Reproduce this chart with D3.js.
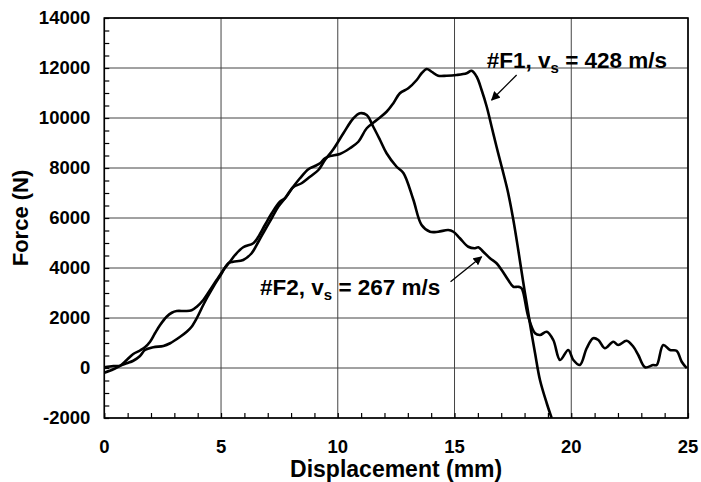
<!DOCTYPE html>
<html>
<head>
<meta charset="utf-8">
<script src="https://cdn.jsdelivr.net/npm/d3@7"></script>
<style>
  body { margin: 0; background: #fff; }
  svg { display: block; }
  text { font-family: "Liberation Sans", Arial, Helvetica, sans-serif; font-weight: bold; fill: #000; }
</style>
</head>
<body>
<svg id="chart" width="701" height="482"></svg>
<script>
// Force-displacement curves (mm, N)
const f1Disp = [0, 0.39, 0.67, 0.96, 1.24, 1.53, 1.74, 1.96, 2.17, 2.39, 2.67, 2.89, 3.1, 3.46, 3.74, 3.96,
  4.24, 4.53, 4.81, 5.1, 5.38, 5.6, 5.95, 6.38, 6.6, 6.88, 7.17, 7.52, 7.74, 8.09, 8.38, 8.74, 9.02, 9.24,
  9.45, 9.67, 10.09, 10.52, 10.88, 11.24, 11.67, 12.09, 12.38, 12.66, 13.02, 13.38, 13.59, 13.81, 14.02,
  14.3, 14.66, 15.09, 15.52, 15.73, 15.95, 16.16, 16.38, 16.59, 16.8, 17.02, 17.2, 17.3, 17.52, 17.73,
  17.94, 18.16, 18.3, 18.45, 18.66, 18.95, 19.16];
const f1Force = [-190, -50, 80, 320, 560, 700, 830, 1050, 1390, 1720, 2050, 2210, 2280, 2280, 2310, 2450,
  2720, 3120, 3520, 3920, 4250, 4520, 4830, 4990, 5250, 5720, 6190, 6650, 6790, 7250, 7590, 7950, 8080, 8190,
  8390, 8480, 8560, 8790, 9050, 9590, 9920, 10250, 10590, 10990, 11190, 11520, 11790, 11960, 11850,
  11690, 11690, 11720, 11790, 11890, 11650, 11120, 10450, 9650, 8850, 8050, 7390, 6990, 5920, 4720,
  3450, 2190, 1390, 590, -480, -1410, -2000];

const f2Disp = [0, 0.39, 0.67, 0.96, 1.24, 1.53, 1.74, 2.1, 2.53, 2.82, 3.25, 3.53, 3.74, 3.96, 4.17, 4.39,
  4.67, 4.96, 5.31, 5.52, 5.95, 6.31, 6.6, 6.88, 7.17, 7.45, 7.74, 8.09, 8.45, 8.81, 9.17, 9.45, 9.81,
  10.24, 10.67, 10.95, 11.24, 11.52, 11.81, 12.09, 12.52, 12.81, 13.23, 13.59, 13.95, 14.3, 14.73, 14.95,
  15.23, 15.59, 15.88, 16.02, 16.23, 16.52, 16.8, 17.02, 17.3, 17.52, 17.73, 17.87, 18.16, 18.45, 18.66,
  18.95, 19.23, 19.52, 19.87, 20.09, 20.37, 20.66, 20.94, 21.16, 21.44, 21.8, 22.01, 22.37, 22.66, 22.87,
  23.16, 23.51, 23.66, 23.94, 24.23, 24.51, 24.73, 24.95];
const f2Force = [30, 80, 90, 190, 290, 480, 720, 830, 880, 990, 1250, 1450, 1650, 1990, 2390, 2790,
  3250, 3680, 4190, 4250, 4320, 4590, 5050, 5520, 5990, 6450, 6790, 7230, 7390, 7650, 7920, 8320, 8750,
  9390, 9990, 10190, 10120, 9650, 9120, 8590, 8050, 7800, 6750, 5720, 5450, 5450, 5520, 5450,
  5190, 4850, 4790, 4830, 4650, 4390, 4190, 3920, 3520, 3250, 3250, 3190, 2050, 1390, 1320,
  1450, 1120, 320, 720, 320, 120, 790, 1190, 1120, 790, 1050, 920, 1090, 850, 520,
  30, 120, 120, 920, 720, 690, 250, -10];

const xTicks = [0, 5, 10, 15, 20, 25];
const yTicks = [-2000, 0, 2000, 4000, 6000, 8000, 10000, 12000, 14000];

// labels: [text, subscript, rest, x (mm), baseline (N)] and arrows [x1, y1, x2, y2]
const labelF1 = ["#F1, v", "s", " = 428 m/s", 16.38, 12000];
const arrowF1 = [17.66, 11720, 16.59, 10720];
const labelF2 = ["#F2, v", "s", " = 267 m/s", 6.67, 2920];
const arrowF2 = [14.83, 3450, 16.16, 4450];

const margin = {left: 104.3, top: 18, right: 13, bottom: 64};
const svg = d3.select('#chart');
const W = 701 - margin.left - margin.right;
const H = 482 - margin.top - margin.bottom;

const x = d3.scaleLinear().domain([0, 25]).range([0, W]);
const y = d3.scaleLinear().domain([-2000, 14000]).range([H, 0]);

const g = svg.append('g').attr('transform', `translate(${margin.left},${margin.top})`);

svg.append('defs').append('clipPath').attr('id', 'plot-clip')
  .append('rect').attr('width', W).attr('height', H);

// grid
g.append('g').selectAll('line').data(yTicks).enter().append('line')
  .attr('x1', 0).attr('x2', W)
  .attr('y1', d => y(d)).attr('y2', d => y(d))
  .attr('stroke', '#444').attr('stroke-width', 1);
g.append('g').selectAll('line').data(xTicks).enter().append('line')
  .attr('y1', 0).attr('y2', H)
  .attr('x1', d => x(d)).attr('x2', d => x(d))
  .attr('stroke', '#444').attr('stroke-width', 1);

// minor ticks, inward
const yAxis = d3.axisRight(y).tickValues(d3.range(-2000, 14001, 500)).tickSize(5).tickFormat('');
g.append('g').call(yAxis).call(s => s.select('.domain').remove())
  .selectAll('line').attr('stroke', '#000').attr('stroke-width', 1.2);
const xAxis = d3.axisTop(x).tickValues(d3.range(0, 26, 1)).tickSize(5).tickFormat('');
g.append('g').attr('transform', `translate(0,${H})`).call(xAxis)
  .call(s => s.select('.domain').remove())
  .selectAll('line').attr('stroke', '#000').attr('stroke-width', 1.2);

// tick labels
g.append('g').selectAll('text').data(yTicks).enter().append('text')
  .attr('x', -14).attr('y', d => y(d)).attr('dy', '0.35em')
  .attr('text-anchor', 'end').style('font-size', '18.5px')
  .text(d => d);
g.append('g').selectAll('text').data(xTicks).enter().append('text')
  .attr('x', d => x(d)).attr('y', H + 35)
  .attr('text-anchor', 'middle').style('font-size', '18.5px')
  .text(d => d);

// frame
g.append('rect').attr('width', W).attr('height', H)
  .attr('fill', 'none').attr('stroke', '#000').attr('stroke-width', 1.6);

// curves
const line = d3.line()
  .x(d => x(d[0])).y(d => y(d[1]))
  .curve(d3.curveCatmullRom.alpha(0.5));

const curves = [d3.zip(f1Disp, f1Force), d3.zip(f2Disp, f2Force)];
g.append('g').attr('clip-path', 'url(#plot-clip)')
  .selectAll('path').data(curves).enter().append('path')
  .attr('d', line)
  .attr('fill', 'none').attr('stroke', '#000').attr('stroke-width', 2.6)
  .attr('stroke-linejoin', 'round');

// arrows
svg.select('defs').append('marker')
  .attr('id', 'head').attr('viewBox', '0 0 10 10')
  .attr('refX', 9).attr('refY', 5)
  .attr('markerWidth', 9).attr('markerHeight', 9).attr('markerUnits', 'userSpaceOnUse')
  .attr('orient', 'auto')
  .append('path').attr('d', 'M0,0 L10,5 L0,10 z').attr('fill', '#000');

g.selectAll('.arrow').data([arrowF1, arrowF2]).enter().append('line')
  .attr('class', 'arrow')
  .attr('x1', d => x(d[0])).attr('y1', d => y(d[1]))
  .attr('x2', d => x(d[2])).attr('y2', d => y(d[3]))
  .attr('stroke', '#000').attr('stroke-width', 1.3)
  .attr('marker-end', 'url(#head)');

[labelF1, labelF2].forEach(l => {
  const t = g.append('text')
    .attr('x', x(l[3])).attr('y', y(l[4]))
    .style('font-size', '22.5px');
  t.append('tspan').text(l[0]);
  t.append('tspan').attr('dy', 5).style('font-size', '15px').text(l[1]);
  t.append('tspan').attr('dy', -5).text(l[2]);
});

// axis titles
svg.append('text')
  .attr('x', margin.left + W / 2).attr('y', 477)
  .attr('text-anchor', 'middle').style('font-size', '23px')
  .text('Displacement (mm)');
svg.append('text')
  .attr('transform', `translate(28,${margin.top + H / 2}) rotate(-90)`)
  .attr('text-anchor', 'middle').style('font-size', '22px')
  .text('Force (N)');
</script>
</body>
</html>
